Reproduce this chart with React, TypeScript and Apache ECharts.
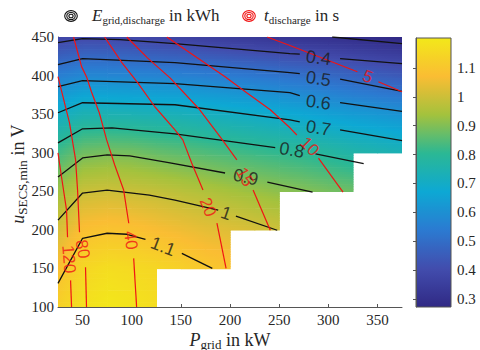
import { useEffect, useRef } from 'react';
import * as echarts from 'echarts';

// ---------- grid of the surface (E_grid,discharge in kWh) ----------
const P_KW = [25, 50, 75, 100, 125, 150, 175, 200, 225, 250, 275, 300, 325, 350, 375];
const U_V = [100, 150, 200, 250, 300, 350, 400, 450];
const E_U100 = [1.13, 1.18, 1.2, 1.19, 1.17, null, null, null, null, null, null, null, null, null, null];
const E_U150 = [1.076, 1.15, 1.17, 1.16, 1.15, 1.13, 1.105, 1.09, null, null, null, null, null, null, null];
const E_U200 = [1.015, 1.081, 1.092, 1.087, 1.071, 1.055, 1.039, 1.029, 1.016, 1.0, null, null, null, null, null];
const E_U250 = [0.933, 0.995, 1.003, 0.995, 0.986, 0.972, 0.958, 0.943, 0.928, 0.914, 0.903, 0.889, 0.878, null, null];
const E_U300 = [0.829, 0.882, 0.892, 0.887, 0.872, 0.86, 0.847, 0.835, 0.823, 0.812, 0.8, 0.783, 0.765, 0.752, 0.739];
const E_U350 = [0.705, 0.744, 0.744, 0.74, 0.735, 0.73, 0.718, 0.708, 0.696, 0.683, 0.668, 0.65, 0.635, 0.622, 0.609];
const E_U400 = [0.55, 0.577, 0.573, 0.57, 0.565, 0.559, 0.55, 0.54, 0.53, 0.519, 0.506, 0.49, 0.472, 0.456, 0.443];
const E_U450 = [0.375, 0.392, 0.39, 0.383, 0.374, 0.363, 0.351, 0.338, 0.328, 0.316, 0.308, 0.3, 0.29, 0.279, 0.27];

// colour range of the colorbar
const C_MIN = 0.272;
const C_MAX = 1.204;
const CBAR_TICKS = [0.3, 0.4, 0.5, 0.6, 0.7, 0.8, 0.9, 1.0, 1.1];

// ---------- black contour lines: E levels, [P, u] points per segment ----------
const E_03 = [[[304, 450], [375, 441.5]]];
const E_04 = [[[25, 442.8], [50, 448], [88, 446.7], [144, 441.5], [261, 428.5], [271, 427.8]], [[312, 422], [375, 415.5]]];
const E_05 = [[[25, 414.2], [50, 422], [144, 416.8], [261, 403.8], [271, 402.5]], [[312, 395.4], [375, 379.5]]];
const E_06 = [[[25, 385.6], [50, 393.4], [144, 389.5], [261, 377.8], [271, 374]], [[312, 364.8], [375, 353.5]]];
const E_07 = [[[25, 351.8], [50, 364.8], [144, 362.2], [261, 342.7], [271, 340.1]], [[312, 329.6], [375, 315.7]]];
const E_08 = [[[25, 312.7], [50, 331], [80, 332.3], [144, 324.4], [246, 306.6]], [[287, 298.5], [336, 286]]];
const E_09 = [[[25, 268.5], [50, 293.2], [75, 297.1], [98, 295.8], [139, 286.7], [195, 273.7]], [[238, 262], [284, 249]]];
const E_10 = [[[25, 212.6], [50, 247.7], [75, 251.6], [118, 245.1], [144, 238.6], [188, 225.6]], [[206, 217.8], [248, 199.5]]];
const E_11 = [[[25, 130.6], [50, 189.1], [75, 195.6], [95, 194.3], [114, 187.8]], [[151, 169.6], [182, 150.1]]];
const E_LABEL_TEXT = ['0.4', '0.5', '0.6', '0.7', '0.8', '0.9', '1', '1.1'];
const E_LABEL_P = [290, 290, 290, 290, 263, 216, 196, 132];
const E_LABEL_U = [423, 396, 365.5, 332, 303.5, 268.5, 221.5, 178.5];

// ---------- red contour lines: t_discharge levels in s ----------
const T_5 = [[[237.8, 450], [261, 439], [329.6, 405]], [[351, 392], [375, 379]]];
const T_10 = [[[135.7, 450], [195, 398.6], [217, 377.8], [241, 355.7], [261, 332.3], [268, 323]], [[290, 293], [315, 249]]];
const T_15 = [[[95, 450], [116, 423], [139, 397], [169, 356], [190, 320.5], [207, 290.6]], [[223.5, 251.6], [241, 199.5]]];
const T_20 = [[[72.4, 450], [90, 416.8], [106, 390.8], [123.5, 359.6], [144, 329.6], [152, 316.6], [161, 286.7], [172.5, 251.6]], [[186.7, 208.6], [196, 150.1]]];
const T_40 = [[[40.8, 450], [49, 411.6], [54, 398.6], [59, 379], [67, 351.8], [74.5, 316.6], [82.7, 284], [91.8, 251.6], [97, 208.6]], [[102, 163], [105, 100]]];
const T_80 = [[[25, 398.6], [36.7, 338.8], [42.9, 290.6], [44.9, 251.6], [46.9, 197]], [[53, 151.4], [54, 100]]];
const T_120 = [[[25, 299.7], [28.6, 268.5], [33.7, 225.6], [34.7, 190.4]], [[37.8, 134.5], [38.8, 100]]];
const T_LABEL_TEXT = ['5', '10', '15', '20', '40', '80', '120'];
const T_LABEL_P = [340, 281, 215, 177.5, 99, 50, 36];
const T_LABEL_U = [398.5, 308, 268.5, 229.5, 186.5, 175, 162];

const X_TICKS = [50, 100, 150, 200, 250, 300, 350];

// ---------- styles ----------
const E_LABEL_ROT = [-7, -8, -8, -9, -10, -12, -19, -21];
const T_LABEL_ROT = [-22, -45, -62, -68, -82, -80, -86];

const PARULA = [
  [0.19, 0.16, 0.52],
  [0.26, 0.3, 0.68],
  [0.17, 0.48, 0.82],
  [0.05, 0.66, 0.83],
  [0.17, 0.72, 0.58],
  [0.64, 0.76, 0.24],
  [0.98, 0.74, 0.2],
  [0.95, 0.91, 0.1],
];

function parula(t: number): string {
  const tt = Math.max(0, Math.min(1, t));
  const x = tt * (PARULA.length - 1);
  const i = Math.min(PARULA.length - 2, Math.floor(x));
  const f = x - i;
  const a = PARULA[i];
  const b = PARULA[i + 1];
  const c = [0, 1, 2].map((k) => Math.round(255 * (a[k] + (b[k] - a[k]) * f)));
  return `rgb(${c[0]},${c[1]},${c[2]})`;
}
const colorOf = (v: number) => parula((v - C_MIN) / (C_MAX - C_MIN));

const E_ROWS = [E_U100, E_U150, E_U200, E_U250, E_U300, E_U350, E_U400, E_U450];
const CELLS: number[][] = [];
for (let j = 0; j < U_V.length - 1; j++) {
  for (let i = 0; i < P_KW.length - 1; i++) {
    const a = E_ROWS[j][i], b = E_ROWS[j][i + 1], c = E_ROWS[j + 1][i], d = E_ROWS[j + 1][i + 1];
    if (a != null && b != null && c != null && d != null) CELLS.push([i, j]);
  }
}

const SERIF = 'Liberation Serif';
const AX = '#262626';
const RED = '#f01414';

function lineSeries(segs: number[][][], color: string, width: number) {
  return segs.map((seg) => ({
    type: 'line',
    xAxisIndex: 0,
    yAxisIndex: 0,
    data: seg,
    symbol: 'none',
    showSymbol: false,
    silent: true,
    clip: true,
    z: 3,
    lineStyle: { color, width },
  }));
}

function richTitle(size: number, sub: number, lh: number, slh: number) {
  return {
    v: { fontFamily: SERIF, fontStyle: 'italic', fontSize: size, lineHeight: lh, verticalAlign: 'middle', fill: AX },
    s: { fontFamily: SERIF, fontSize: sub, lineHeight: slh, verticalAlign: 'bottom', fill: AX },
    m: { fontFamily: SERIF, fontSize: size, lineHeight: lh, verticalAlign: 'middle', fill: AX },
  };
}

function buildOption() {
  const blackSeries = [E_03, E_04, E_05, E_06, E_07, E_08, E_09, E_10, E_11].flatMap((s) => lineSeries(s, '#111111', 1.3));
  const redSeries = [T_5, T_10, T_15, T_20, T_40, T_80, T_120].flatMap((s) => lineSeries(s, RED, 1.2));

  const eLabels = E_LABEL_TEXT.map((t, k) => ({ value: [E_LABEL_P[k], E_LABEL_U[k]], name: t, label: { rotate: E_LABEL_ROT[k] } }));
  const tLabels = T_LABEL_TEXT.map((t, k) => ({ value: [T_LABEL_P[k], T_LABEL_U[k]], name: t, label: { rotate: T_LABEL_ROT[k] } }));

  const cbarStops: any[] = [];
  for (let k = 0; k <= 42; k++) cbarStops.push({ offset: k / 42, color: parula(1 - k / 42) });

  return {
    animation: false,
    backgroundColor: '#ffffff',
    grid: [
      { left: 58, top: 37, width: 344, height: 270 },
      { left: 416, top: 38, width: 35, height: 269 },
    ],
    xAxis: [
      {
        gridIndex: 0,
        type: 'value',
        min: 25,
        max: 375,
        splitLine: { show: false },
        axisLine: { show: true, lineStyle: { color: '#555', width: 1 } },
        axisTick: { show: true, inside: true, length: 3, customValues: X_TICKS, lineStyle: { color: '#555' } },
        axisLabel: { show: true, customValues: X_TICKS, margin: 5, fontFamily: SERIF, fontSize: 15, color: AX },
      },
      { gridIndex: 1, type: 'value', min: 0, max: 1, show: false },
    ],
    yAxis: [
      {
        gridIndex: 0,
        type: 'value',
        min: 100,
        max: 450,
        interval: 50,
        splitLine: { show: false },
        axisLine: { show: true, lineStyle: { color: '#555', width: 1 } },
        axisTick: { show: true, inside: true, length: 3, lineStyle: { color: '#555' } },
        axisLabel: { show: true, margin: 4, fontFamily: SERIF, fontSize: 15, color: AX },
      },
      {
        gridIndex: 1,
        type: 'value',
        position: 'right',
        min: C_MIN,
        max: C_MAX,
        splitLine: { show: false },
        axisLine: { show: true, lineStyle: { color: '#555', width: 1 } },
        axisTick: { show: true, inside: true, length: 3, customValues: CBAR_TICKS, lineStyle: { color: '#555' } },
        axisLabel: {
          show: true,
          customValues: CBAR_TICKS,
          margin: 6,
          fontFamily: SERIF,
          fontSize: 15,
          color: AX,
          formatter: (v: number) => String(Math.round(v * 10) / 10),
        },
      },
    ],
    graphic: {
      elements: [
        {
          type: 'rect',
          z: -1,
          shape: { x: 416, y: 38, width: 35, height: 269 },
          style: {
            fill: { type: 'linear', x: 0, y: 0, x2: 0, y2: 1, colorStops: cbarStops },
            stroke: '#555',
            lineWidth: 1,
          },
        },
        ...[6.3, 4.2, 2.1].map((r) => ({
          type: 'ellipse',
          shape: { cx: 71, cy: 16, rx: r, ry: r * 0.85 },
          style: { fill: 'none', stroke: '#111', lineWidth: 1.1 },
        })),
        ...[6.3, 4.2, 2.1].map((r) => ({
          type: 'ellipse',
          shape: { cx: 249, cy: 16, rx: r, ry: r * 0.85 },
          style: { fill: 'none', stroke: RED, lineWidth: 1.1 },
        })),
        {
          type: 'text',
          x: 92,
          y: 15.5,
          style: {
            text: '{v|E}{s|grid,discharge}{m| in kWh}',
            align: 'left',
            verticalAlign: 'middle',
            fill: AX,
            rich: richTitle(17, 11, 20, 10),
          },
        },
        {
          type: 'text',
          x: 264,
          y: 15.5,
          style: {
            text: '{v|t}{s|discharge}{m| in s}',
            align: 'left',
            verticalAlign: 'middle',
            fill: AX,
            rich: richTitle(17, 11, 20, 10),
          },
        },
        {
          type: 'text',
          x: 230,
          y: 339.5,
          style: {
            text: '{v|P}{s|grid}{m| in kW}',
            align: 'center',
            verticalAlign: 'middle',
            fill: AX,
            rich: richTitle(18, 13, 22, 12),
          },
        },
        {
          type: 'text',
          x: 18,
          y: 174,
          rotation: Math.PI / 2,
          style: {
            text: '{v|u}{s|SECS,min}{m| in V}',
            align: 'center',
            verticalAlign: 'middle',
            fill: AX,
            rich: richTitle(18, 13, 22, 12),
          },
        },
      ],
    },
    series: [
      {
        type: 'custom',
        xAxisIndex: 0,
        yAxisIndex: 0,
        silent: true,
        clip: true,
        z: 1,
        data: CELLS,
        renderItem: (_params: any, api: any) => {
          const i = api.value(0) as number;
          const j = api.value(1) as number;
          const v00 = E_ROWS[j][i] as number, v10 = E_ROWS[j][i + 1] as number;
          const v01 = E_ROWS[j + 1][i] as number, v11 = E_ROWS[j + 1][i + 1] as number;
          const tl = api.coord([P_KW[i], U_V[j + 1]]);
          const br = api.coord([P_KW[i + 1], U_V[j]]);
          const w = br[0] - tl[0];
          const h = br[1] - tl[1];
          const n = 16;
          const children: any[] = [];
          for (let r = 0; r < n; r++) {
            const s = 1 - (r + 0.5) / n;
            const vl = v00 + (v01 - v00) * s;
            const vr = v10 + (v11 - v10) * s;
            const colorStops: any[] = [];
            for (let k = 0; k <= 4; k++) colorStops.push({ offset: k / 4, color: colorOf(vl + (vr - vl) * (k / 4)) });
            children.push({
              type: 'rect',
              shape: { x: tl[0], y: tl[1] + (r * h) / n, width: w + 0.7, height: h / n + 0.7 },
              style: { fill: { type: 'linear', x: 0, y: 0, x2: 1, y2: 0, colorStops } },
            });
          }
          return { type: 'group', children };
        },
      },
      ...blackSeries,
      ...redSeries,
      {
        type: 'scatter',
        xAxisIndex: 0,
        yAxisIndex: 0,
        symbolSize: 1,
        silent: true,
        z: 6,
        itemStyle: { color: 'transparent' },
        label: { show: true, position: 'inside', formatter: '{b}', fontFamily: 'Liberation Sans', fontSize: 18, color: '#1a1a1a' },
        data: eLabels,
      },
      {
        type: 'scatter',
        xAxisIndex: 0,
        yAxisIndex: 0,
        symbolSize: 1,
        silent: true,
        z: 6,
        itemStyle: { color: 'transparent' },
        label: { show: true, position: 'inside', formatter: '{b}', fontFamily: 'Liberation Sans', fontSize: 17, color: RED },
        data: tLabels,
      },
    ],
  };
}

export default function App() {
  const ref = useRef<HTMLDivElement>(null);
  useEffect(() => {
    if (!ref.current) return;
    const chart = echarts.init(ref.current, null, { renderer: 'svg' });
    chart.setOption(buildOption() as any);
    return () => chart.dispose();
  }, []);
  return (
    <div
      ref={ref}
      style={{ position: 'fixed', left: 0, top: 0, width: 480, height: 350, background: '#ffffff' }}
    />
  );
}
